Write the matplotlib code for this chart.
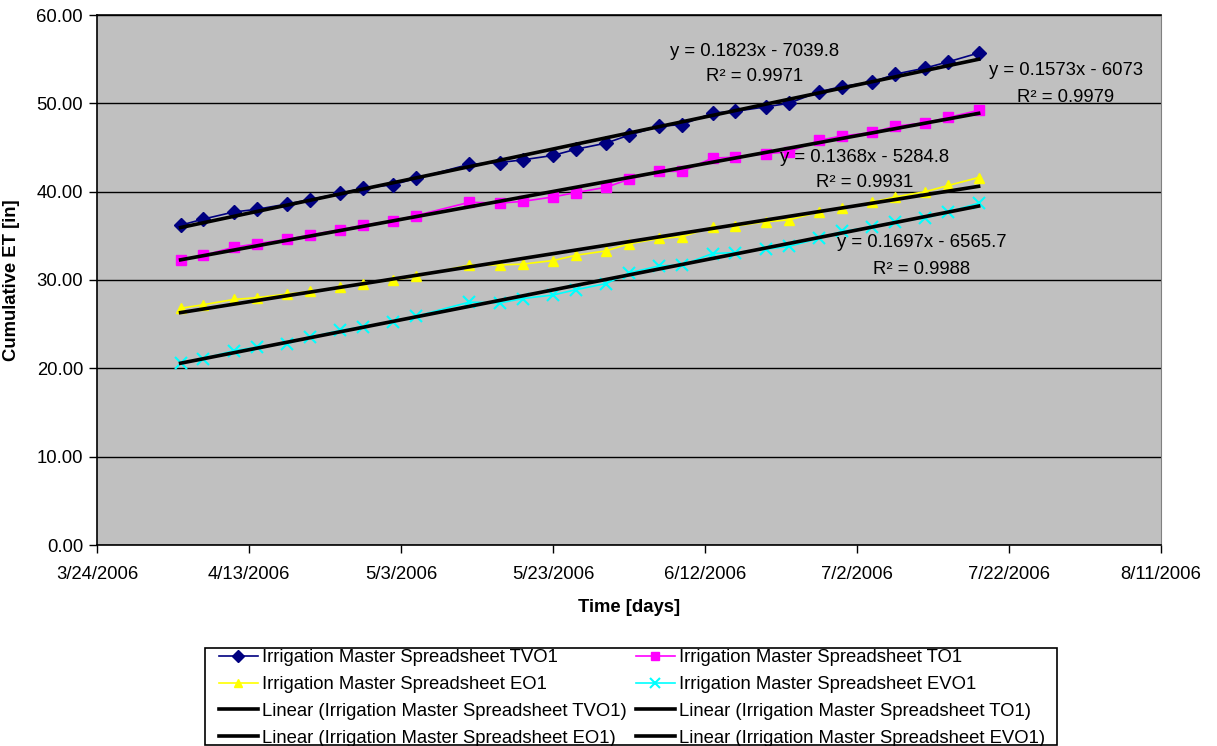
import numpy as np
import matplotlib
matplotlib.use("Agg")
import matplotlib.pyplot as plt
import matplotlib.dates as mdates
from matplotlib.patches import Rectangle
from matplotlib.ticker import FuncFormatter
from datetime import datetime

plt.rcParams["font.family"] = ["Liberation Sans", "DejaVu Sans"]
plt.rcParams["font.size"] = 13.3

# measurement dates (twice weekly)
dates = [
    "2006-04-04", "2006-04-07", "2006-04-11", "2006-04-14", "2006-04-18",
    "2006-04-21", "2006-04-25", "2006-04-28", "2006-05-02", "2006-05-05",
    "2006-05-12", "2006-05-16", "2006-05-19", "2006-05-23", "2006-05-26",
    "2006-05-30", "2006-06-02", "2006-06-06", "2006-06-09", "2006-06-13",
    "2006-06-16", "2006-06-20", "2006-06-23", "2006-06-27", "2006-06-30",
    "2006-07-04", "2006-07-07", "2006-07-11", "2006-07-14", "2006-07-18",
]

tvo1 = [36.2, 36.9, 37.7, 38.0, 38.6, 39.1, 39.8, 40.4, 40.8, 41.5,
        43.1, 43.3, 43.6, 44.1, 44.8, 45.5, 46.4, 47.4, 47.6, 48.9,
        49.1, 49.6, 50.0, 51.3, 51.9, 52.4, 53.3, 54.0, 54.7, 55.7]
to1 = [32.3, 32.8, 33.7, 34.1, 34.6, 35.1, 35.7, 36.2, 36.7, 37.3,
       38.8, 38.7, 38.9, 39.4, 39.9, 40.5, 41.4, 42.3, 42.3, 43.8,
       43.9, 44.3, 44.5, 45.8, 46.3, 46.7, 47.4, 47.8, 48.4, 49.2]
eo1 = [26.8, 27.2, 27.8, 28.0, 28.4, 28.7, 29.2, 29.6, 30.0, 30.4,
       31.7, 31.7, 31.8, 32.2, 32.8, 33.3, 34.1, 34.7, 34.9, 36.0,
       36.1, 36.6, 36.8, 37.7, 38.1, 38.8, 39.4, 40.0, 40.7, 41.6]
evo1 = [20.6, 21.1, 22.0, 22.4, 22.8, 23.5, 24.3, 24.7, 25.3, 25.9,
        27.5, 27.4, 27.9, 28.3, 28.9, 29.6, 30.8, 31.6, 31.7, 33.0,
        33.1, 33.5, 33.8, 34.7, 35.5, 36.0, 36.6, 37.0, 37.7, 38.7]

names = ["TVO1", "TO1", "EO1", "EVO1"]
equations = ["y = 0.1823x - 7039.8", "y = 0.1573x - 6073",
             "y = 0.1368x - 5284.8", "y = 0.1697x - 6565.7"]
r_squared = ["R² = 0.9971", "R² = 0.9979", "R² = 0.9931", "R² = 0.9988"]

x = mdates.datestr2num(dates)

W, H = 1217, 746
fig = plt.figure(figsize=(W / 100, H / 100), dpi=100)
ax = fig.add_axes([97 / W, 1 - 545 / H, (1161 - 97) / W, (545 - 15) / H])
ax.set_facecolor("#C0C0C0")

styles = [
    dict(color="#000080", marker="D", ms=7),
    dict(color="#FF00FF", marker="s", ms=7),
    dict(color="#FFFF00", marker="^", ms=7.5),
    dict(color="#00FFFF", marker="x", ms=8, mew=1.5),
]
series = [tvo1, to1, eo1, evo1]

data_handles = []
trend_handles = []
for name, ys, st in zip(names, series, styles):
    h, = ax.plot(x, ys, lw=1.2, zorder=3,
                 label=f"Irrigation Master Spreadsheet {name}", **st)
    data_handles.append(h)
for name, ys in zip(names, series):
    k, b = np.polyfit(x, ys, 1)
    xx = np.array([x[0], x[-1]])
    h, = ax.plot(xx, k * xx + b, color="black", lw=2.6, zorder=4,
                 label=f"Linear (Irrigation Master Spreadsheet {name})")
    trend_handles.append(h)

# trendline equation labels
label_pos = [
    (datetime(2006, 6, 18, 12), 55.9, 53.0),
    (datetime(2006, 7, 29, 12), 53.7, 50.7),
    (datetime(2006, 7, 3), 43.9, 41.0),
    (datetime(2006, 7, 10, 12), 34.2, 31.2),
]
for (d, y1, y2), eq, r2 in zip(label_pos, equations, r_squared):
    xd = mdates.date2num(d)
    ax.text(xd, y1, eq, ha="center", va="center", zorder=5)
    ax.text(xd, y2, r2, ha="center", va="center", zorder=5)

# axes
start = datetime(2006, 3, 24)
end = datetime(2006, 8, 11)
ax.set_xlim(mdates.date2num(start), mdates.date2num(end))
ax.set_xticks(mdates.date2num(start) + np.arange(0, 141, 20))
ax.xaxis.set_major_formatter(FuncFormatter(
    lambda v, p: (lambda d: f"{d.month}/{d.day}/{d.year}")(mdates.num2date(v))))
ax.set_ylim(0, 60)
ax.set_yticks(np.arange(0, 61, 10))
ax.yaxis.set_major_formatter(FuncFormatter(lambda v, p: f"{v:.2f}"))
ax.grid(axis="y", color="black", lw=1)
ax.set_axisbelow(True)
ax.tick_params(direction="out", length=6, width=1, colors="black")
ax.tick_params(axis="y", pad=4)
ax.tick_params(axis="x", pad=9)
for side in ["left", "bottom", "top"]:
    ax.spines[side].set_color("black")
    ax.spines[side].set_linewidth(1.2)
ax.spines["right"].set_color("#808080")

ax.set_xlabel("Time [days]", fontweight="bold", labelpad=12)
ax.set_ylabel("Cumulative ET [in]", fontweight="bold")
ax.yaxis.set_label_coords(-77 / 1064, 0.5)

# legend: column-major order so rows pair up
order = [data_handles[0], data_handles[2], trend_handles[0], trend_handles[2],
         data_handles[1], data_handles[3], trend_handles[1], trend_handles[3]]
leg = fig.legend(handles=order, labels=[h.get_label() for h in order],
                 ncol=2, loc="upper left", bbox_to_anchor=(219 / W, 1 - 649 / H),
                 borderaxespad=0, borderpad=0, frameon=False, markerscale=0.85,
                 handlelength=2.1, handletextpad=0.22,
                 columnspacing=0.5, labelspacing=0.54)
fig.add_artist(Rectangle((205 / W, 1 - 745 / H), (1057 - 205) / W, (745 - 648) / H,
                         transform=fig.transFigure, fill=False,
                         edgecolor="black", lw=1.2))

fig.savefig("out.png", dpi=100)
